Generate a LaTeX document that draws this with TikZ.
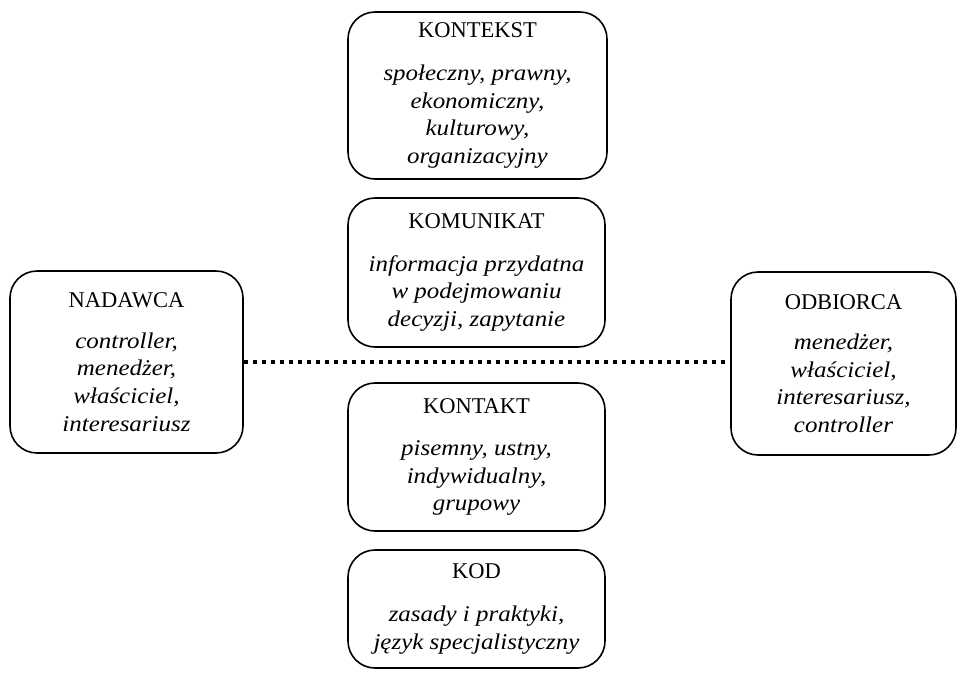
\documentclass[tikz,border=0pt]{standalone}
\usepackage{fontspec}
\setmainfont{Liberation Serif}[ItalicFeatures={FakeStretch=1.11}]
\begin{document}
\begin{tikzpicture}[x=1pt,y=-1pt,
  box/.style={draw, line width=1.6pt, rounded corners=27pt, align=center,
    inner sep=0pt, font=\fontsize{22.5}{27.6}\selectfont},
  dotline/.style={line width=4pt, dash pattern=on 4.5pt off 4.5pt}]
\useasboundingbox (0,0) rectangle (958,675);
\newcommand{\ds}[1]{\textit{#1}}

% central column
\node[box, minimum width=259pt, minimum height=167pt] (kontekst) at (477.5,95.5)
  {KONTEKST\\[15pt]\ds{społeczny, prawny,}\\\ds{ekonomiczny,}\\\ds{kulturowy,}\\\ds{organizacyjny}};
\node[box, minimum width=257pt, minimum height=149pt] (komunikat) at (476.5,272.5)
  {KOMUNIKAT\\[15pt]\ds{informacja przydatna}\\\ds{w podejmowaniu}\\\ds{decyzji, zapytanie}};
\node[box, minimum width=257pt, minimum height=148pt] (kontakt) at (476.5,457)
  {KONTAKT\\[15pt]\ds{pisemny, ustny,}\\\ds{indywidualny,}\\\ds{grupowy}};
\node[box, minimum width=257pt, minimum height=118pt] (kod) at (476.5,609)
  {KOD\\[15pt]\ds{zasady i praktyki,}\\\ds{język specjalistyczny}};

% sender and receiver
\node[box, minimum width=233pt, minimum height=182pt] (nadawca) at (126.5,362)
  {NADAWCA\\[13pt]\ds{controller,}\\\ds{menedżer,}\\\ds{właściciel,}\\\ds{interesariusz}};
\node[box, minimum width=225pt, minimum height=183pt] (odbiorca) at (843.5,363.5)
  {ODBIORCA\\[13pt]\ds{menedżer,}\\\ds{właściciel,}\\\ds{interesariusz,}\\\ds{controller}};

% communication channel
\draw[dotline] (nadawca.east) -- (nadawca.east -| odbiorca.west);
\end{tikzpicture}
\end{document}
